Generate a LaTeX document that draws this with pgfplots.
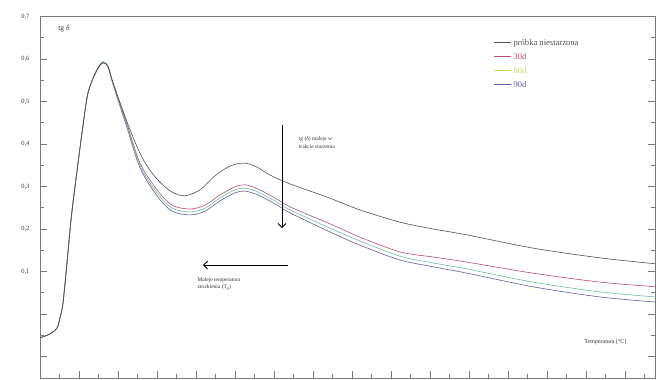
\documentclass[border=0pt]{standalone}
\usepackage{pgfplots}
\pgfplotsset{compat=1.18}
\usepackage{fontspec}
\setmainfont{Liberation Serif}
\usetikzlibrary{arrows.meta}
\definecolor{axgray}{HTML}{7A7A7A}
\definecolor{c0}{HTML}{505050}
\definecolor{c30}{HTML}{C04A68}
\definecolor{c60}{HTML}{6CC09A}
\definecolor{c60leg}{HTML}{C8D45A}
\definecolor{c90}{HTML}{5C5CAA}
\begin{document}
\begin{tikzpicture}
\useasboundingbox (-40bp,-2bp) rectangle (616bp,378bp);
\begin{axis}[
  at={(0,0)}, anchor=south west,
  scale only axis, width=615bp, height=362bp,
  xmin=0, xmax=15.77, ymin=-0.1506, ymax=0.701,
  axis line style={axgray, line width=0.8bp},
  every tick/.style={axgray, line width=0.7bp},
  xtick={1,2,...,15}, minor xtick={0.5,1.5,...,15.5},
  xticklabels={}, xtick pos=bottom,
  major tick length=7bp, minor tick length=4bp,
  ytick={-0.1,0,0.1,0.2,0.3,0.4,0.5,0.6,0.7},
  yticklabels={{},{},{0,1},{0,2},{0,3},{0,4},{0,5},{0,6},{0,7}},
  minor ytick={-0.05,0.05,0.15,0.25,0.35,0.45,0.55,0.65},
  ytick pos=both,
  /pgf/number format/assume math mode=true,
  yticklabel style={font=\fontsize{6.5}{7}\selectfont, text=black!80, xshift=-7bp},
  clip=true,
  legend style={at={(axis cs:11.55,0.654)}, anchor=north west, draw=none, fill=none,
    font=\fontsize{8.6}{9}\selectfont, row sep=0pt,
    nodes={inner sep=0pt, text height=7bp, text depth=7bp, anchor=west}},
  legend cell align=left,
  legend image code/.code={\draw[#1] (0bp,2.5bp) -- (17bp,2.5bp);},
]
\addlegendimage{c0, line width=0.8bp}
\addlegendentry{\textcolor{c0}{~próbka niestarzona}}
\addlegendimage{c30, line width=0.8bp}
\addlegendentry{\textcolor{c30}{~30d}}
\addlegendimage{c60leg, line width=0.8bp}
\addlegendentry{\textcolor{c60leg}{~60d}}
\addlegendimage{c90, line width=0.8bp}
\addlegendentry{\textcolor{c90}{~90d}}

% 90d
\addplot[c90, line width=0.6bp, smooth, tension=0.5, forget plot] coordinates {
(0,-0.056) (0.256,-0.047) (0.436,-0.033) (0.513,-0.009) (0.59,0.026) (0.692,0.120)
(0.795,0.221) (0.897,0.299) (1.077,0.426) (1.231,0.520) (1.462,0.574) (1.615,0.591)
(1.744,0.581) (1.872,0.540) (2.231,0.438) (2.564,0.344) (3.0,0.278) (3.385,0.242)
(3.846,0.233) (4.231,0.242) (4.615,0.266) (5.0,0.285) (5.256,0.289) (5.590,0.280)
(6.026,0.259) (6.410,0.238) (7.436,0.193) (8.2,0.162) (9.231,0.127) (10.08,0.111)
(10.95,0.096) (12.64,0.064) (14.36,0.040) (15.79,0.028)};
% 60d
\addplot[c60, line width=0.6bp, smooth, tension=0.5, forget plot] coordinates {
(0,-0.056) (0.256,-0.047) (0.436,-0.033) (0.513,-0.009) (0.59,0.026) (0.692,0.120)
(0.795,0.221) (0.897,0.299) (1.077,0.426) (1.231,0.520) (1.462,0.576) (1.615,0.594)
(1.744,0.583) (1.872,0.542) (2.231,0.442) (2.564,0.349) (3.0,0.285) (3.385,0.249)
(3.846,0.240) (4.231,0.249) (4.615,0.273) (5.0,0.292) (5.256,0.296) (5.590,0.287)
(6.026,0.266) (6.410,0.245) (7.436,0.202) (8.2,0.172) (9.231,0.136) (10.08,0.120)
(10.95,0.106) (12.64,0.075) (14.36,0.052) (15.79,0.040)};
% 30d
\addplot[c30, line width=0.6bp, smooth, tension=0.5, forget plot] coordinates {
(0,-0.056) (0.256,-0.047) (0.436,-0.033) (0.513,-0.009) (0.59,0.026) (0.692,0.120)
(0.795,0.221) (0.897,0.299) (1.077,0.426) (1.231,0.520) (1.462,0.574) (1.615,0.591)
(1.744,0.582) (1.872,0.544) (2.231,0.447) (2.564,0.355) (3.0,0.292) (3.385,0.256)
(3.846,0.247) (4.231,0.256) (4.615,0.280) (5.0,0.299) (5.256,0.304) (5.590,0.294)
(6.026,0.273) (6.410,0.252) (7.436,0.212) (8.2,0.181) (9.231,0.146) (10.08,0.134)
(10.95,0.122) (12.64,0.096) (14.36,0.075) (15.79,0.064)};
% probka niestarzona
\addplot[c0, line width=0.6bp, smooth, tension=0.5, forget plot] coordinates {
(0,-0.056) (0.256,-0.047) (0.436,-0.033) (0.513,-0.009) (0.59,0.026) (0.692,0.120)
(0.795,0.221) (0.897,0.299) (1.077,0.426) (1.231,0.520) (1.462,0.574) (1.615,0.591)
(1.744,0.582) (1.872,0.544) (2.231,0.452) (2.564,0.378) (2.82,0.338) (3.1,0.308)
(3.4,0.286) (3.718,0.278) (4.103,0.292) (4.487,0.325) (4.872,0.348) (5.205,0.355)
(5.513,0.348) (5.897,0.327) (6.41,0.306) (7.36,0.275) (8.2,0.245) (9.231,0.216)
(10.08,0.200) (10.95,0.186) (12.64,0.155) (14.36,0.132) (15.79,0.118)};

\node[anchor=west, font=\fontsize{7.5}{8}\selectfont, text=black!80] at (axis cs:0.38,0.672) {tg δ};
\draw[black, line width=0.9bp, -{Straight Barb[length=4bp,width=8bp]}] (axis cs:6.205,0.445) -- (axis cs:6.205,0.202);
\node[anchor=north west, align=left, font=\fontsize{5.5}{7.5}\selectfont, text=black!80] at (axis cs:6.55,0.425) {tg (δ) maleje w\\trakcie starzenia};
\draw[black, line width=0.9bp, -{Straight Barb[length=4bp,width=8bp]}] (axis cs:6.36,0.115) -- (axis cs:4.18,0.115);
\node[anchor=north west, align=left, font=\fontsize{5.5}{7.5}\selectfont, text=black!80] at (axis cs:3.95,0.094) {Maleje temperatura\\zeszklenia (T\textsubscript{g})};
\node[font=\fontsize{6}{7}\selectfont, text=black!80] at (axis cs:14.5,-0.066) {Temperatura [°C]};
\end{axis}
\end{tikzpicture}
\end{document}
